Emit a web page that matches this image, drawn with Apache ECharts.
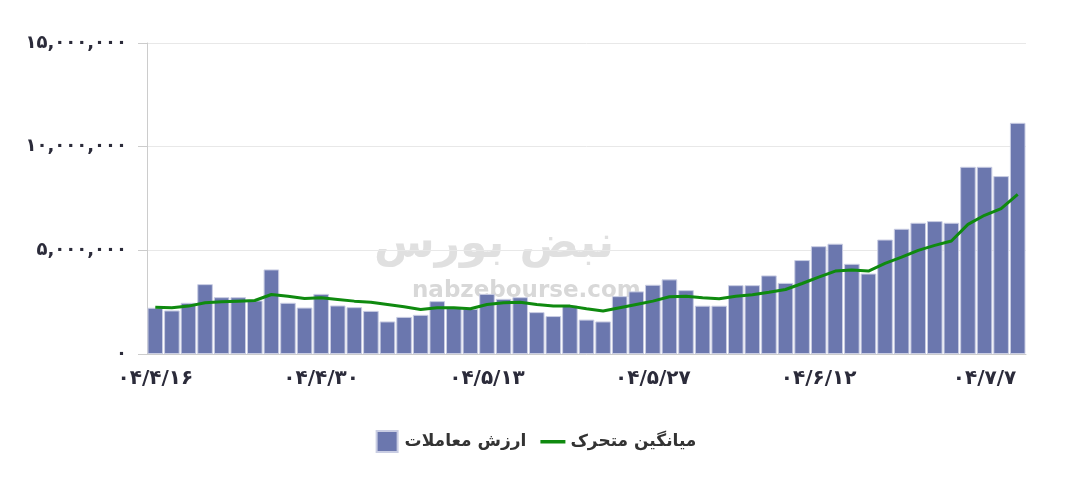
<!DOCTYPE html>
<html>
<head>
<meta charset="utf-8">
<script src="https://cdn.jsdelivr.net/npm/echarts@6/dist/echarts.min.js"></script>
<style>
html,body{margin:0;padding:0;background:#fff;}
#chart{width:1070px;height:478px;}
</style>
</head>
<body>
<div id="chart"></div>
<script>
// Categories (trading dates, Persian digits)
var categories = [
  '۰۴/۴/۱۶','۰۴/۴/۱۷','۰۴/۴/۱۸','۰۴/۴/۲۱','۰۴/۴/۲۲','۰۴/۴/۲۳','۰۴/۴/۲۴','۰۴/۴/۲۵','۰۴/۴/۲۸','۰۴/۴/۲۹',
  '۰۴/۴/۳۰','۰۴/۴/۳۱','۰۴/۵/۱','۰۴/۵/۴','۰۴/۵/۵','۰۴/۵/۶','۰۴/۵/۷','۰۴/۵/۸','۰۴/۵/۱۱','۰۴/۵/۱۲',
  '۰۴/۵/۱۳','۰۴/۵/۱۴','۰۴/۵/۱۵','۰۴/۵/۱۸','۰۴/۵/۱۹','۰۴/۵/۲۰','۰۴/۵/۲۱','۰۴/۵/۲۲','۰۴/۵/۲۵','۰۴/۵/۲۶',
  '۰۴/۵/۲۷','۰۴/۵/۲۸','۰۴/۵/۲۹','۰۴/۶/۳','۰۴/۶/۴','۰۴/۶/۵','۰۴/۶/۸','۰۴/۶/۹','۰۴/۶/۱۰','۰۴/۶/۱۱',
  '۰۴/۶/۱۲','۰۴/۶/۱۵','۰۴/۶/۱۷','۰۴/۶/۱۹','۰۴/۶/۲۲','۰۴/۶/۲۴','۰۴/۶/۲۶','۰۴/۶/۲۹','۰۴/۶/۳۱','۰۴/۷/۲',
  '۰۴/۷/۷','۰۴/۷/۸','۰۴/۷/۹'
];

// Trade value (bars)
var tradeValue = [
  2230000, 2100000, 2470000, 3370000, 2740000, 2740000, 2580000, 4080000, 2470000, 2240000,
  2900000, 2340000, 2260000, 2080000, 1570000, 1790000, 1890000, 2550000, 2230000, 2180000,
  2900000, 2660000, 2740000, 2020000, 1830000, 2340000, 1660000, 1570000, 2790000, 3020000,
  3340000, 3600000, 3080000, 2330000, 2330000, 3320000, 3320000, 3790000, 3430000, 4530000,
  5200000, 5320000, 4350000, 3880000, 5520000, 6040000, 6330000, 6410000, 6330000, 9030000,
  9030000, 8580000, 11150000
];

// Moving average (line)
var movingAvg = [
  2260000, 2230000, 2310000, 2470000, 2520000, 2550000, 2580000, 2870000, 2790000, 2680000,
  2710000, 2630000, 2550000, 2500000, 2390000, 2280000, 2150000, 2230000, 2230000, 2180000,
  2390000, 2470000, 2500000, 2390000, 2310000, 2310000, 2180000, 2070000, 2230000, 2390000,
  2550000, 2760000, 2790000, 2710000, 2660000, 2790000, 2860000, 2980000, 3110000, 3400000,
  3710000, 4000000, 4050000, 4000000, 4370000, 4670000, 5000000, 5240000, 5450000, 6250000,
  6690000, 7010000, 7700000
];

var seriesNames = ['ارزش معاملات', 'میانگین متحرک'];
var labelIndices = [0, 10, 20, 30, 40, 50];

var faDigits = ['۰','۱','۲','۳','۴','۵','۶','۷','۸','۹'];
function toFa(n) {
  var s = String(n).replace(/\B(?=(\d{3})+(?!\d))/g, ',');
  return s.replace(/\d/g, function (d) { return faDigits[+d]; });
}

var FONT = '"DejaVu Sans", "Noto Sans", sans-serif';
var chart = echarts.init(document.getElementById('chart'), null, {renderer: 'canvas'});
chart.setOption({
  animation: false,
  backgroundColor: '#ffffff',
  textStyle: {fontFamily: FONT},
  graphic: [
    {
      type: 'text', left: 374, top: 224, z: -10, silent: true,
      style: {text: 'نبض بورس', fill: '#e0e0e0', font: 'bold 44px ' + FONT}
    },
    {
      type: 'text', left: 412, top: 280, z: -10, silent: true,
      style: {text: 'nabzebourse.com', fill: '#d8d8d8', font: 'bold 23px ' + FONT}
    }
  ],
  grid: {left: 147, right: 44, top: 43, bottom: 124, containLabel: false},
  legend: {
    data: [
      {name: seriesNames[0], icon: 'path://M0,0 M25,21 M2,0L23,0L23,21L2,21Z'},
      {name: seriesNames[1], icon: 'path://M0,0 M25,21 M0,9L25,9L25,12.5L0,12.5Z'}
    ],
    bottom: 20,
    left: 'center',
    itemWidth: 25,
    itemHeight: 21,
    itemGap: 14,
    textStyle: {fontSize: 17, color: '#333', fontWeight: 'bold', fontFamily: FONT}
  },
  xAxis: {
    type: 'category',
    data: categories,
    boundaryGap: true,
    axisLine: {lineStyle: {color: '#cccccc', width: 1}},
    axisTick: {
      alignWithLabel: true, length: 8, lineStyle: {color: '#cccccc'},
      interval: function (i) { return labelIndices.indexOf(i) >= 0; }
    },
    axisLabel: {
      interval: function (i) { return labelIndices.indexOf(i) >= 0; },
      color: '#2b2b3a', fontSize: 20, fontWeight: 'bold', margin: 15, fontFamily: FONT
    }
  },
  yAxis: {
    type: 'value',
    min: 0, max: 15000000, interval: 5000000,
    axisLine: {show: true, lineStyle: {color: '#cccccc'}},
    axisTick: {show: true, length: 9, lineStyle: {color: '#cccccc'}},
    splitLine: {lineStyle: {color: '#e8e8e8'}},
    axisLabel: {
      formatter: function (v) { return toFa(v); },
      color: '#2b2b3a', fontSize: 18, fontWeight: 'bold', margin: 20, fontFamily: FONT
    }
  },
  series: [
    {
      name: seriesNames[0],
      type: 'bar',
      data: tradeValue,
      barCategoryGap: '6%',
      itemStyle: {color: '#6b77ae', borderColor: '#c9cde3', borderWidth: 1}
    },
    {
      name: seriesNames[1],
      type: 'line',
      data: movingAvg,
      symbol: 'none',
      smooth: false,
      z: 5,
      color: '#0f8a0f',
      lineStyle: {color: '#0f8a0f', width: 3},
      itemStyle: {color: '#0f8a0f'}
    }
  ]
});
</script>
</body>
</html>
